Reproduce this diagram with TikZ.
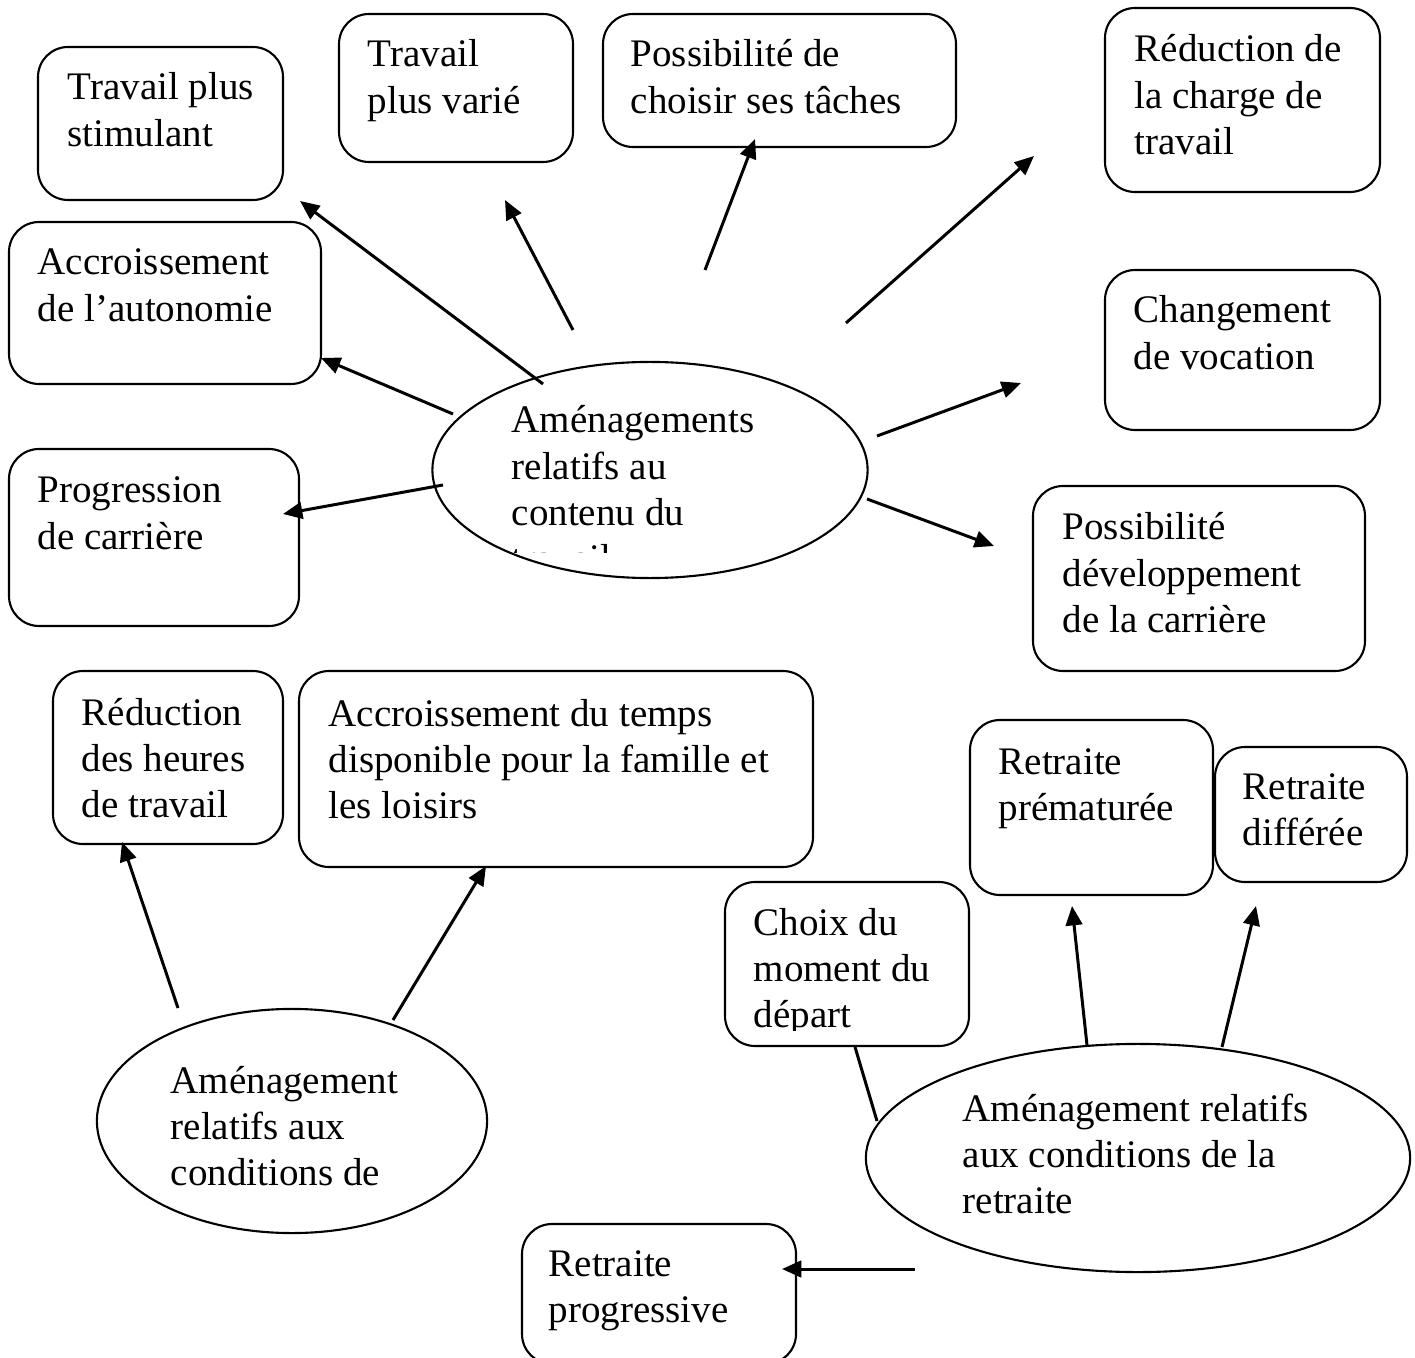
\documentclass[tikz,border=0pt]{standalone}
\usepackage{fontspec}
\setmainfont{Liberation Serif}
\usetikzlibrary{arrows.meta,shapes.geometric,fit}

% one unit = one pixel of the 1415 x 1358 sheet, y growing downwards
\tikzset{
  box/.style={draw, line width=0.6pt, rounded corners=0.3cm, inner sep=0pt},
  oval/.style={draw, ellipse, line width=0.6pt, inner sep=0pt},
  txt/.style={inner sep=0pt, anchor=base west,
    font=\fontsize{11.1pt}{13.1pt}\selectfont},
  arr/.style={line width=0.85pt, -{Triangle[length=5.5pt,width=4.7pt]}},
  link/.style={line width=0.85pt},
}
\newcommand{\ml}[1]{\begin{tabular}[t]{@{}l@{}}#1\end{tabular}}

\begin{document}
\begin{tikzpicture}[x=0.01cm, y=-0.01cm]
\useasboundingbox (0,0) rectangle (1415,1358);

% ---------- job content ----------
\node[box, fit={(38,47) (283,200)}] (stim) {};
\node[txt] (stimT) at (67,100) {\ml{Travail plus\\stimulant}};

\node[box, fit={(339,14) (573,162)}] (vari) {};
\node[txt] (variT) at (367,67) {\ml{Travail\\plus varié}};

\node[box, fit={(603,14) (956,147)}] (choi) {};
\node[txt] (choiT) at (630,67) {\ml{Possibilité de\\choisir ses tâches}};

\node[box, fit={(1105,8) (1380,192)}] (redc) {};
\node[txt] (redcT) at (1134,62) {\ml{Réduction de\\la charge de\\travail}};

\node[box, fit={(9,222) (321,384)}] (auto) {};
\node[txt] (autoT) at (37,275) {\ml{Accroissement\\de l’autonomie}};

\node[box, fit={(1105,270) (1380,430)}] (voca) {};
\node[txt] (vocaT) at (1133,323) {\ml{Changement\\de vocation}};

\node[box, fit={(9,449) (299,626)}] (prog) {};
\node[txt] (progT) at (37,503) {\ml{Progression\\de carrière}};

\node[box, fit={(1033,486) (1365,671)}] (deve) {};
\node[txt] (deveT) at (1062,540) {\ml{Possibilité\\développement\\de la carrière}};

\node[oval, minimum width=4.35cm, minimum height=2.16cm] (contenu) at (650,470) {};
\begin{scope}
  \clip (432,380) rectangle (868,552);
  \node[txt] (contenuT) at (511,433)
    {\ml{Aménagements\\relatifs au\\contenu du\\travail}};
\end{scope}

\coordinate (c1a) at (543,384);  \coordinate (c1b) at (300,201);
\coordinate (c2a) at (573,330);  \coordinate (c2b) at (505,200);
\coordinate (c3a) at (705,270);  \coordinate (c3b) at (755,139);
\coordinate (c4a) at (846,323);  \coordinate (c4b) at (1034,156);
\coordinate (c5a) at (453,414);  \coordinate (c5b) at (321,358);
\coordinate (c6a) at (443,485);  \coordinate (c6b) at (283,514);
\coordinate (c7a) at (877,436);  \coordinate (c7b) at (1021,383);
\coordinate (c8a) at (867,499);  \coordinate (c8b) at (994,546);
\foreach \i in {1,...,8} \draw[arr] (c\i a) -- (c\i b);

% ---------- working time ----------
\node[box, fit={(53,671) (283,844)}] (heur) {};
\node[txt] (heurT) at (81,725) {\ml{Réduction\\des heures\\de travail}};

\node[box, fit={(299,671) (813,867)}] (fami) {};
\node[txt] (famiT) at (328,726) {\ml{Accroissement du temps\\disponible pour la famille et\\les loisirs}};

\node[oval, minimum width=3.9cm, minimum height=2.24cm] (travail) at (292,1121) {};
\node[txt] (travailT) at (170,1093) {\ml{Aménagement\\relatifs aux\\conditions de}};

\coordinate (t1a) at (178,1008); \coordinate (t1b) at (122,842);
\coordinate (t2a) at (393,1020); \coordinate (t2b) at (486,866);
\draw[arr] (t1a) -- (t1b);
\draw[arr] (t2a) -- (t2b);

% ---------- retirement ----------
\node[box, fit={(970,720) (1213,895)}] (prem) {};
\node[txt] (premT) at (998,774) {\ml{Retraite\\prématurée}};

\node[box, fit={(1215,747) (1407,882)}] (diff) {};
\node[txt] (diffT) at (1242,799) {\ml{Retraite\\différée}};

\node[box, fit={(725,882) (969,1046)}] (depa) {};
\begin{scope}
  \clip (727,884) rectangle (967,1030);
  \node[txt] (depaT) at (753,935) {\ml{Choix du\\moment du\\départ}};
\end{scope}

\node[box, fit={(522,1224) (796,1364)}] (gradu) {};
\node[txt] (graduT) at (548,1276) {\ml{Retraite\\progressive}};

\node[oval, minimum width=5.44cm, minimum height=2.28cm] (retraite) at (1138,1158) {};
\node[txt] (retraiteT) at (962,1121) {\ml{Aménagement relatifs\\aux conditions de la\\retraite}};

\coordinate (r1a) at (1087,1045); \coordinate (r1b) at (1072,906);
\coordinate (r2a) at (1222,1047); \coordinate (r2b) at (1256,906);
\coordinate (r3a) at (855,1047);  \coordinate (r3b) at (877,1121);
\coordinate (r4a) at (915,1269);  \coordinate (r4b) at (782,1269);
\draw[arr] (r1a) -- (r1b);
\draw[arr] (r2a) -- (r2b);
\draw[link] (r3a) -- (r3b);
\draw[arr] (r4a) -- (r4b);
\end{tikzpicture}
\end{document}
